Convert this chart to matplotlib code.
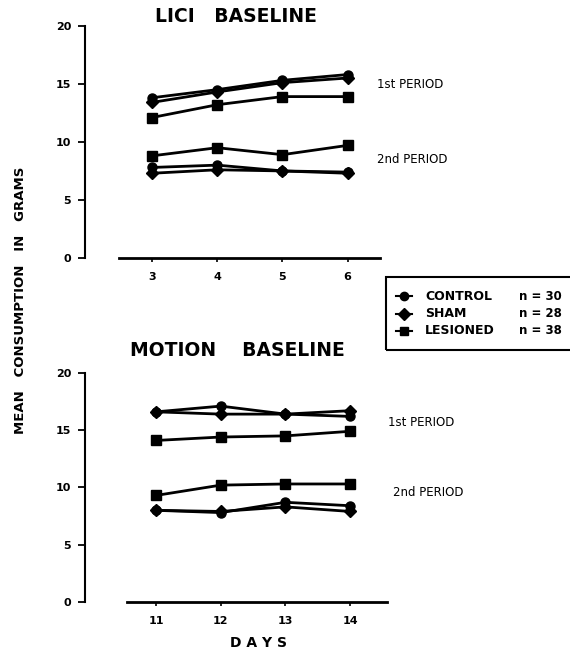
import matplotlib
matplotlib.use('Agg')
import matplotlib.pyplot as plt
from matplotlib.lines import Line2D
from matplotlib.patches import Rectangle

plt.rcParams['font.family'] = ['DejaVu Sans']

# ---- data ----
groups = ['CONTROL', 'SHAM', 'LESIONED']
group_n = ['n = 30', 'n = 28', 'n = 38']
markers = ['o', 'D', 's']

lici_days = [3, 4, 5, 6]
lici_p1 = [[13.8, 14.5, 15.3, 15.8],     # control
           [13.4, 14.3, 15.1, 15.5],     # sham
           [12.1, 13.2, 13.9, 13.9]]     # lesioned
lici_p2 = [[7.8, 8.0, 7.5, 7.4],
           [7.3, 7.6, 7.5, 7.3],
           [8.8, 9.5, 8.9, 9.7]]

motion_days = [11, 12, 13, 14]
motion_p1 = [[16.6, 17.1, 16.4, 16.2],
             [16.6, 16.4, 16.4, 16.7],
             [14.1, 14.4, 14.5, 14.9]]
motion_p2 = [[8.0, 7.8, 8.7, 8.4],
             [8.0, 7.9, 8.3, 7.9],
             [9.3, 10.2, 10.3, 10.3]]

fig = plt.figure(figsize=(5.7, 6.6), dpi=100)
ax1 = fig.add_axes([0.149, 0.609, 0.518, 0.352])
ax2 = fig.add_axes([0.149, 0.088, 0.530, 0.347])

def panel(ax, days, p1, p2, xlim, xstart, title, tpad):
    for vals_set in (p1, p2):
        for vals, mk in zip(vals_set, markers):
            ax.plot(days, vals, color='black', lw=2.0, marker=mk, ms=6.5,
                    mfc='black', mec='black', zorder=3)
    ax.set_xlim(*xlim)
    ax.set_ylim(0, 20)
    ax.set_xticks(days)
    ax.set_yticks([0, 5, 10, 15, 20])
    for s in ('top', 'right'):
        ax.spines[s].set_visible(False)
    ax.spines['left'].set_linewidth(1.5)
    ax.spines['bottom'].set_linewidth(2.0)
    ax.spines['bottom'].set_bounds(xstart, xlim[1])
    ax.tick_params(axis='y', direction='out', length=5, width=1.3, pad=5)
    ax.tick_params(axis='x', direction='out', length=3, width=1.2, pad=7)
    for lab in ax.get_xticklabels() + ax.get_yticklabels():
        lab.set_fontweight('bold')
        lab.set_fontsize(8)
    ax.set_title(title, fontsize=13.5, fontweight='bold', pad=tpad)

panel(ax1, lici_days, lici_p1, lici_p2, (1.97, 6.5), 2.5, 'LICI   BASELINE', 0.5)
panel(ax2, motion_days, motion_p1, motion_p2, (9.9, 14.57), 10.55,
      'MOTION    BASELINE', 12)
ax1.title.set_position((0.51, 1.0))
ax2.title.set_position((0.505, 1.0))

# period labels
for x, y, t in [(377, 85, '1st PERIOD'), (377, 159, '2nd PERIOD'),
                (388, 423, '1st PERIOD'), (393, 493, '2nd PERIOD')]:
    fig.text(x / 570, 1 - y / 660, t, fontsize=8.5, va='center', ha='left')

fig.text(21 / 570, 1 - 300 / 660, 'MEAN   CONSUMPTION   IN   GRAMS', rotation=90,
         fontsize=9.5, fontweight='bold', va='center', ha='center')
fig.text(258 / 570, 1 - 643 / 660, 'D A Y S', fontsize=10, fontweight='bold',
         va='center', ha='center')

# legend box
fig.add_artist(Rectangle((386 / 570, 1 - 350 / 660), 190 / 570, 73 / 660,
                         transform=fig.transFigure, fill=False, lw=1.5,
                         edgecolor='black'))
for i, (g, n, mk) in enumerate(zip(groups, group_n, markers)):
    y = 1 - (296 + 17.5 * i) / 660
    fig.add_artist(Line2D([396 / 570, 404 / 570, 412 / 570], [y, y, y],
                          color='black', lw=1.5, marker=mk, ms=6, markevery=[1],
                          transform=fig.transFigure))
    fig.text(425 / 570, y, g, fontsize=9, fontweight='bold', va='center', ha='left')
    fig.text(519 / 570, y, n, fontsize=8.5, fontweight='bold', va='center', ha='left')

fig.savefig('out.png', dpi=100)
